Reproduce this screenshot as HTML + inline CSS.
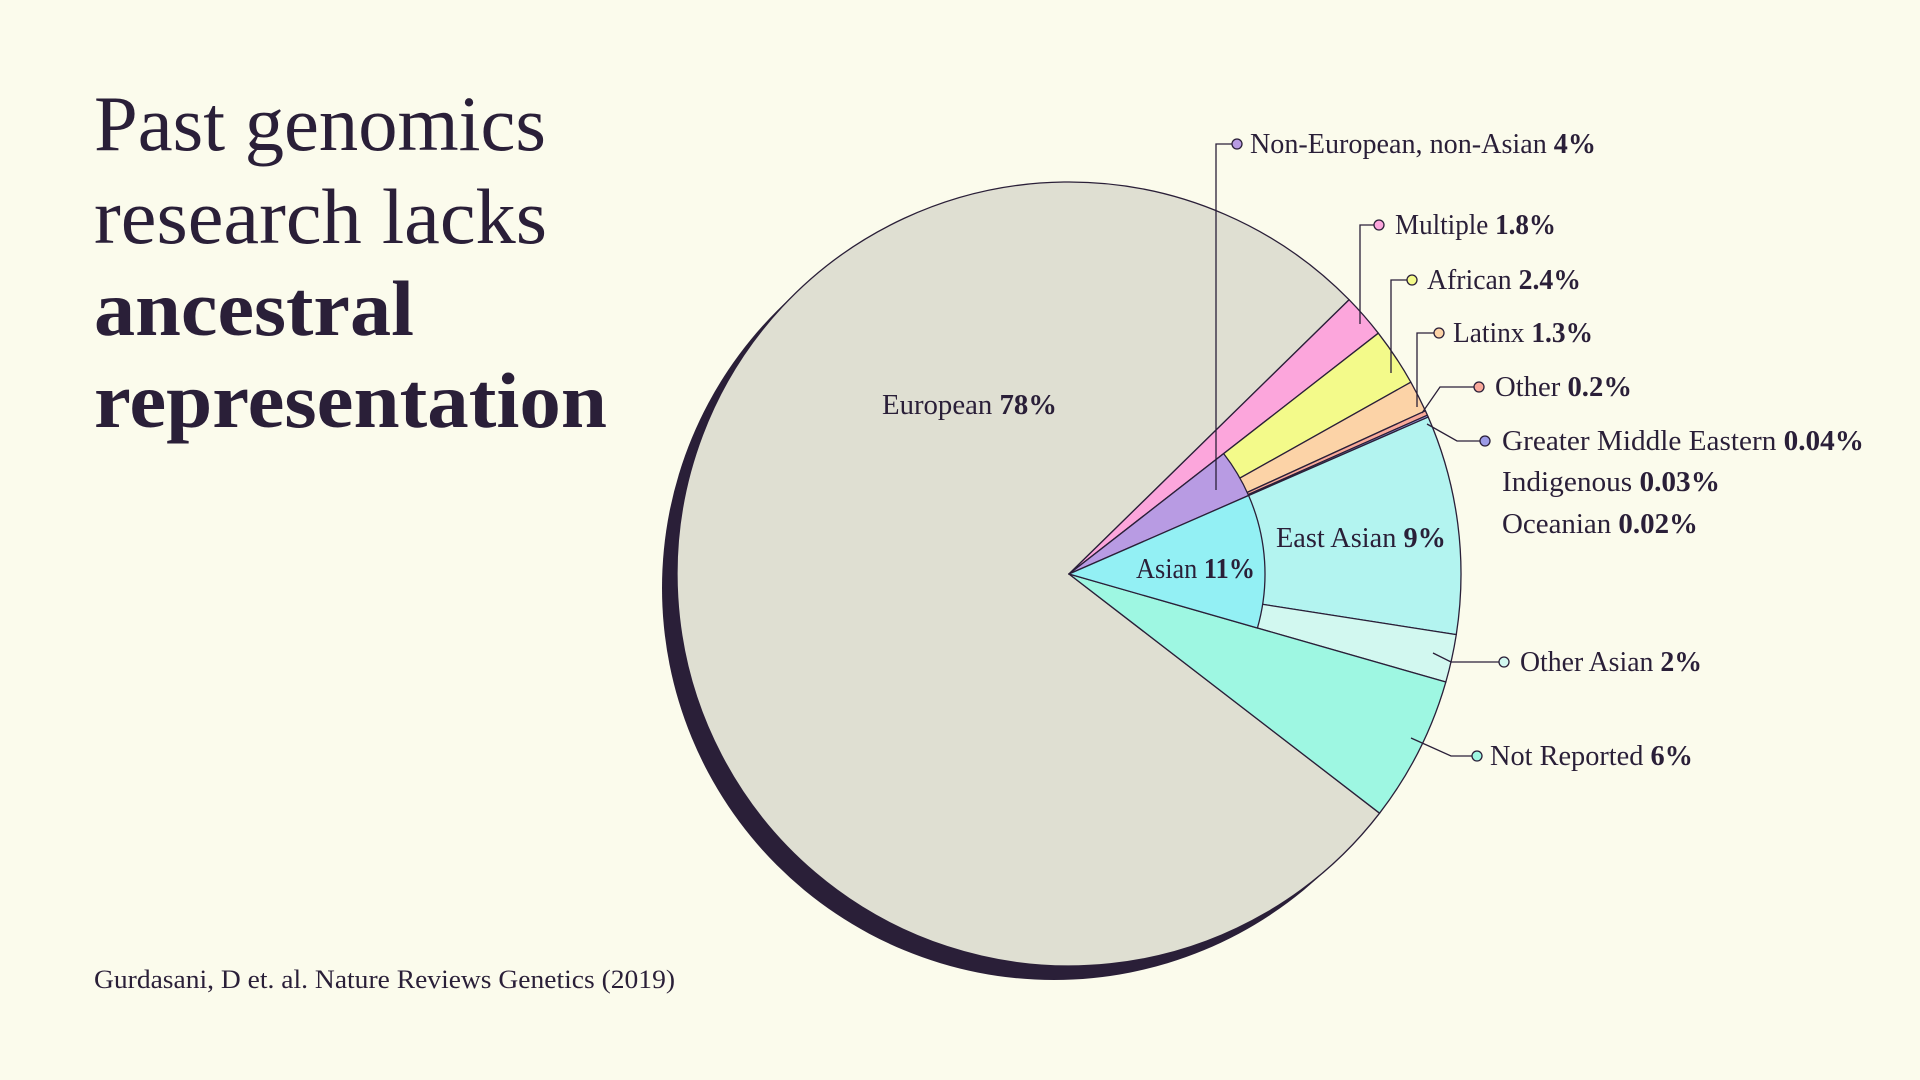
<!DOCTYPE html>
<html><head><meta charset="utf-8"><style>
html,body{margin:0;padding:0;background:#fbfbec;}
svg{display:block}
text{font-family:"Liberation Serif",serif;fill:#2a1f38}
.b{font-weight:bold}
</style></head><body>
<svg id="s" width="1920" height="1080" viewBox="0 0 1920 1080" xmlns="http://www.w3.org/2000/svg">
<rect width="1920" height="1080" fill="#fbfbec"/>
<circle cx="1054" cy="588" r="392" fill="#2a1f38"/>
<g id="pie" stroke="#2a1f38" stroke-width="1.3" stroke-linejoin="round"></g>
<g fill="none" stroke="#2a1f38" stroke-width="1.3">
<polyline points="1216,490 1216,144 1233,144"/>
<polyline points="1360,324 1360,225 1375,225"/>
<polyline points="1391,373 1391,280 1408,280"/>
<polyline points="1417,407 1417,333 1435,333"/>
<polyline points="1422,413 1440,387 1475,387"/>
<polyline points="1427,424 1457,441 1481,441"/>
<polyline points="1433,653 1451,662 1500,662"/>
<polyline points="1411,738 1451,756 1473,756"/>
</g>
<g stroke="#2a1f38" stroke-width="1.3">
<circle cx="1237" cy="144" r="5" fill="#b89be3"/>
<circle cx="1379" cy="225" r="5" fill="#fca6dc"/>
<circle cx="1412" cy="280" r="5" fill="#f3fa8a"/>
<circle cx="1439" cy="333" r="5" fill="#fcd3a7"/>
<circle cx="1479" cy="387" r="5" fill="#f9a99a"/>
<circle cx="1485" cy="441" r="5" fill="#9c9be6"/>
<circle cx="1504" cy="662" r="5" fill="#d2f8f0"/>
<circle cx="1477" cy="756" r="5" fill="#9ef7e2"/>
</g>
<text x="94" y="150" font-size="78" textLength="452" lengthAdjust="spacingAndGlyphs">Past genomics</text>
<text x="94" y="243" font-size="78" textLength="453" lengthAdjust="spacingAndGlyphs">research lacks</text>
<text x="94" y="335" font-size="78" class="b" textLength="320" lengthAdjust="spacingAndGlyphs">ancestral</text>
<text x="94" y="427" font-size="78" class="b" textLength="513" lengthAdjust="spacingAndGlyphs">representation</text>
<text x="94" y="988" font-size="26" textLength="581" lengthAdjust="spacingAndGlyphs">Gurdasani, D et. al. Nature Reviews Genetics (2019)</text>
<g font-size="28">
<text x="1250" y="153" textLength="346" lengthAdjust="spacingAndGlyphs">Non-European, non-Asian <tspan class="b">4%</tspan></text>
<text x="1395" y="234" textLength="161" lengthAdjust="spacingAndGlyphs">Multiple <tspan class="b">1.8%</tspan></text>
<text x="1427" y="289" textLength="154" lengthAdjust="spacingAndGlyphs">African <tspan class="b">2.4%</tspan></text>
<text x="1453" y="342" textLength="140" lengthAdjust="spacingAndGlyphs">Latinx <tspan class="b">1.3%</tspan></text>
<text x="1495" y="396" textLength="137" lengthAdjust="spacingAndGlyphs">Other <tspan class="b">0.2%</tspan></text>
<text x="1502" y="450" textLength="362" lengthAdjust="spacingAndGlyphs">Greater Middle Eastern <tspan class="b">0.04%</tspan></text>
<text x="1502" y="491" textLength="218" lengthAdjust="spacingAndGlyphs">Indigenous <tspan class="b">0.03%</tspan></text>
<text x="1502" y="533" textLength="196" lengthAdjust="spacingAndGlyphs">Oceanian <tspan class="b">0.02%</tspan></text>
<text x="1520" y="671" textLength="182" lengthAdjust="spacingAndGlyphs">Other Asian <tspan class="b">2%</tspan></text>
<text x="1490" y="765" textLength="203" lengthAdjust="spacingAndGlyphs">Not Reported <tspan class="b">6%</tspan></text>
<text x="882" y="414" textLength="175" lengthAdjust="spacingAndGlyphs">European <tspan class="b">78%</tspan></text>
<text x="1276" y="547" textLength="170" lengthAdjust="spacingAndGlyphs">East Asian <tspan class="b">9%</tspan></text>
<text x="1136" y="578" textLength="119" lengthAdjust="spacingAndGlyphs">Asian <tspan class="b">11%</tspan></text>
</g>
</svg>
<script>
(function(){
var cx=1069,cy=574,R=392,r=196,g=document.getElementById('pie');
function pt(a,rr){var t=a*Math.PI/180;return [cx+rr*Math.cos(t),cy+rr*Math.sin(t)];}
function wedge(a0,a1,rr,fill){
 var p0=pt(a0,rr),p1=pt(a1,rr),large=((a1-a0+360)%360)>180?1:0;
 var e=document.createElementNS('http://www.w3.org/2000/svg','path');
 e.setAttribute('d','M'+cx+','+cy+' L'+p0[0]+','+p0[1]+' A'+rr+','+rr+' 0 '+large+' 1 '+p1[0]+','+p1[1]+' Z');
 e.setAttribute('fill',fill);g.appendChild(e);}
wedge(37.6,315.6,R,'#dfdfd2');
wedge(-44.4,-37.9,R,'#fca6dc');
wedge(-37.9,-29.3,R,'#f3fa8a');
wedge(-29.3,-24.6,R,'#fcd3a7');
wedge(-24.6,-23.9,R,'#f9a99a');
wedge(-23.9,-23.6,R,'#9c9be6');
wedge(-23.6,8.9,R,'#b3f4f0');
wedge(8.9,16.0,R,'#d2f8f0');
wedge(16.0,37.6,R,'#9ef7e2');
wedge(-37.9,-23.6,r,'#b89be3');
wedge(-23.6,16.0,r,'#93f0f4');
})();
</script>
</body></html>
